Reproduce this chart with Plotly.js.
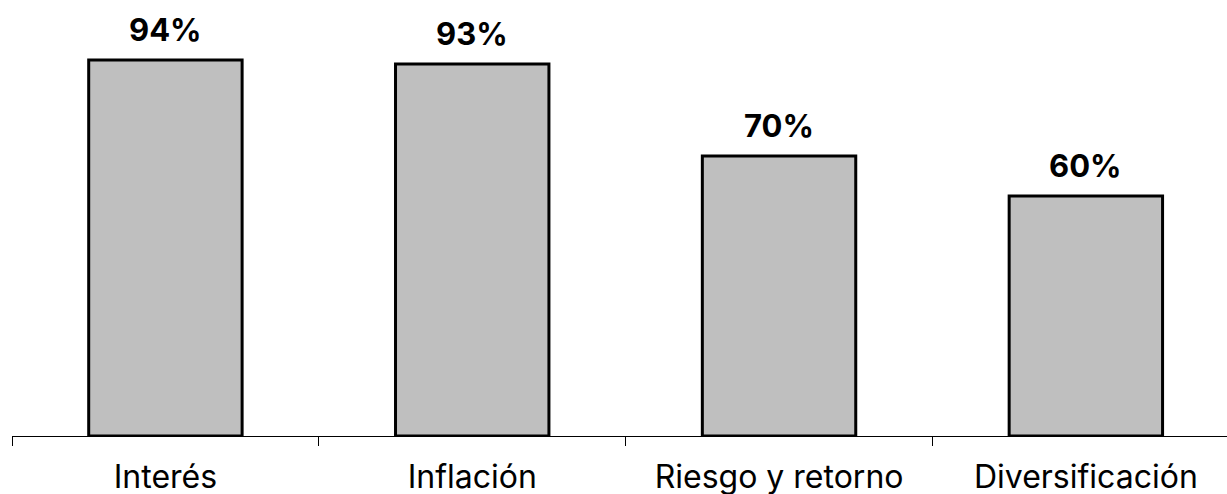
<!DOCTYPE html>
<html>
<head>
<meta charset="utf-8">
<script src="https://cdn.plot.ly/plotly-3.0.1.min.js"></script>
<style>
  html, body { margin: 0; padding: 0; background: #fff; }
  #chart { width: 1227px; height: 494px; }
</style>
</head>
<body>
<div id="chart"></div>
<script>
// Topics and the share of respondents for each
const categories = ["Interés", "Inflación", "Riesgo y retorno", "Diversificación"];
const values = [94, 93, 70, 60];

const fontFamily = "Inter, 'Noto Sans', sans-serif";

const trace = {
  type: "bar",
  x: categories,
  y: values,
  width: 0.5,
  marker: {
    color: "#bfbfbf",
    line: { color: "#000000", width: 3 }
  },
  hoverinfo: "skip"
};

// Percentage labels above each bar
const annotations = categories.map((c, i) => ({
  x: c,
  y: values[i],
  xref: "x",
  yref: "y",
  text: "<b>" + values[i] + "%</b>",
  showarrow: false,
  yanchor: "bottom",
  yshift: 10,
  font: { family: fontFamily, size: 31, color: "#000" }
}));

const layout = {
  width: 1227,
  height: 494,
  margin: { l: 12, r: 0, t: 0, b: 58 },
  paper_bgcolor: "#ffffff",
  plot_bgcolor: "#ffffff",
  showlegend: false,
  xaxis: {
    type: "category",
    range: [-0.5, 3.46],
    showline: true,
    linecolor: "#000000",
    linewidth: 1,
    ticks: "outside",
    tickson: "boundaries",
    ticklen: 9,
    tickwidth: 1,
    tickcolor: "#000000",
    ticklabelstandoff: 13,
    showgrid: false,
    zeroline: false,
    automargin: false,
    tickfont: { family: fontFamily, size: 32, color: "#000" }
  },
  yaxis: {
    range: [0, 109],
    visible: false,
    showgrid: false,
    zeroline: false
  },
  annotations: annotations
};

Plotly.newPlot("chart", [trace], layout, { displayModeBar: false, staticPlot: true });
</script>
</body>
</html>
